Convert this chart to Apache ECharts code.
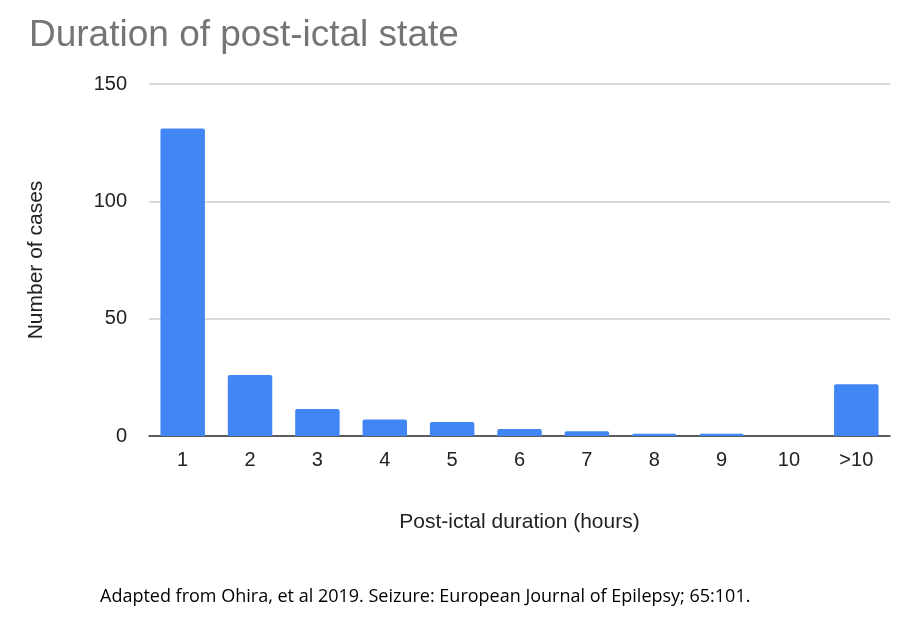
<!DOCTYPE html>
<html>
<head>
<meta charset="utf-8">
<script src="https://cdn.jsdelivr.net/npm/echarts@6/dist/echarts.min.js"></script>
<style>html,body{margin:0;padding:0;background:#fff}#chart{width:914px;height:617px}</style>
</head>
<body>
<div id="chart"></div>
<script>
// post-ictal duration categories and case counts
var categories = ['1', '2', '3', '4', '5', '6', '7', '8', '9', '10', '>10'];
var cases = [131, 26, 11.5, 7, 6, 3, 2, 1, 1, 0, 22];

var myChart = echarts.init(document.getElementById('chart'));

option = {
    animation: false,
    title: [
        {
            text: 'Duration of post-ictal state',
            left: 24, top: 12,
            textStyle: { fontFamily: 'Liberation Sans', fontSize: 37, fontWeight: 'normal', color: '#757575' }
        },
        {
            text: 'Adapted from Ohira, et al 2019. Seizure: European Journal of Epilepsy; 65:101.',
            left: 95, top: 583,
            textStyle: { fontFamily: 'Open Sans', fontSize: 18, fontWeight: 'normal', color: '#000' }
        }
    ],
    grid: { left: 149, right: 24, top: 84, bottom: 181 },
    xAxis: {
        type: 'category',
        data: categories,
        name: 'Post-ictal duration (hours)',
        nameLocation: 'middle',
        nameGap: 76,
        nameTextStyle: { fontFamily: 'Liberation Sans', fontSize: 21, color: '#222' },
        axisTick: { show: false },
        axisLine: { lineStyle: { color: '#333', width: 1.5 } },
        axisLabel: { fontFamily: 'Liberation Sans', fontSize: 20, color: '#222', margin: 14 }
    },
    yAxis: {
        type: 'value',
        min: 0, max: 150, interval: 50,
        name: 'Number of cases',
        nameLocation: 'middle',
        nameGap: 102,
        nameTextStyle: { fontFamily: 'Liberation Sans', fontSize: 21, color: '#222' },
        axisLabel: { fontFamily: 'Liberation Sans', fontSize: 20, color: '#222', margin: 22 },
        splitLine: { lineStyle: { color: '#ccc', width: 1.5 } }
    },
    series: [
        {
            type: 'bar',
            data: cases,
            barCategoryGap: '34%',
            itemStyle: { color: '#4285f4', borderRadius: [2, 2, 0, 0] }
        }
    ]
};

myChart.setOption(option, true);
</script>
</body>
</html>
